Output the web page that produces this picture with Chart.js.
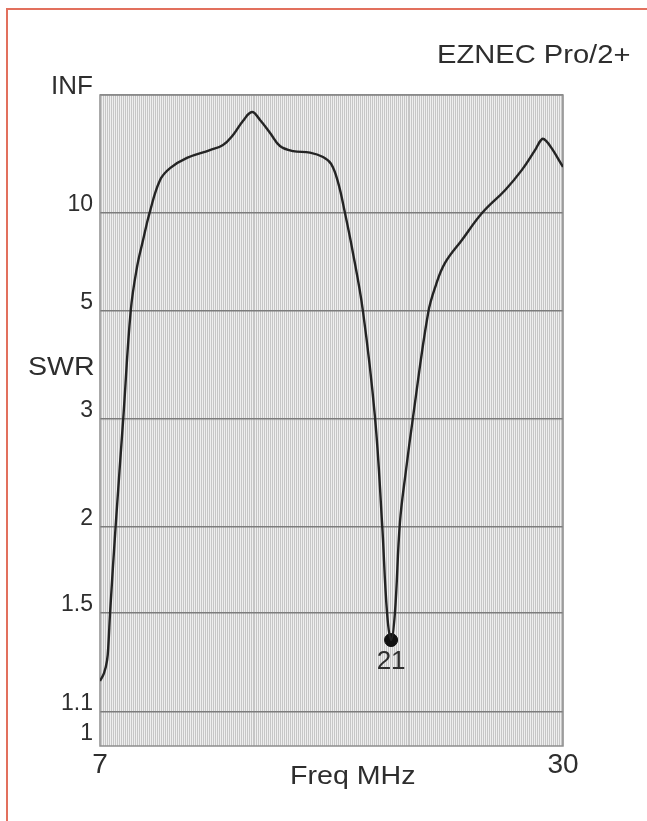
<!DOCTYPE html>
<html>
<head>
<meta charset="utf-8">
<title>EZNEC SWR</title>
<script src="https://cdn.jsdelivr.net/npm/chart.js@4.4.1/dist/chart.umd.min.js"></script>
<style>
html, body { margin: 0; padding: 0; background: #fff; overflow: hidden; }
body { width: 647px; height: 821px; position: relative; font-family: "Liberation Sans", Arial, sans-serif; color: #2e2e2e; }
#frame { position: absolute; left: 6px; top: 8px; width: 700px; height: 900px; border: 2px solid #e2705d; box-sizing: border-box; }
#wrap { position: absolute; left: 0; top: 0; width: 647px; height: 821px; }
.lbl { position: absolute; font-size: 26px; line-height: 26px; white-space: nowrap; transform-origin: left top; }
</style>
</head>
<body>
<div id="frame"></div>
<div id="wrap"><canvas id="swrChart" width="647" height="821"></canvas></div>
<div class="lbl" style="left:437px; top:41px; transform:scaleX(1.12)">EZNEC Pro/2+</div>
<div class="lbl" style="left:28px; top:353px; transform:scaleX(1.1)">SWR</div>
<div class="lbl" style="left:290px; top:762px; transform:scaleX(1.1)">Freq MHz</div>
<script>
// --- data (frequency in MHz, SWR) ---
const freqMHz = [
  7.00, 7.20, 7.35, 7.42, 7.50, 7.78, 8.16, 8.53, 8.84, 9.14, 9.46, 9.98, 10.48, 11.32, 12.46, 13.11,
  13.61, 14.10, 14.55, 14.95, 15.45, 15.94, 16.59, 17.43, 18.08, 18.48, 18.82, 19.17, 19.52, 20.06,
  20.66, 21.01, 21.26, 21.46, 21.65, 21.90, 22.20, 22.55, 23.30, 23.69, 24.14, 24.98, 25.98, 27.12,
  27.96, 28.61, 28.96, 29.16, 29.46, 30.00];
const swr = [
  1.21, 1.24, 1.29, 1.36, 1.50, 2.01, 3.02, 5.02, 6.53, 7.93, 9.97, 14.2, 16.7, 19.6, 22.5, 24.9,
  31.4, 48.8, 75, 50.8, 33.1, 24.4, 22.1, 21.5, 19.9, 17.8, 13.9, 9.97, 7.46, 5.00,
  3.02, 2.03, 1.50, 1.376, 1.50, 2.03, 2.45, 3.02, 4.94, 5.82, 6.71, 7.93, 9.97, 12.6,
  16.3, 22.5, 28.4, 27.2, 23.0, 17.0];

// marked minimum
const markerFreq = [21.46];
const markerSwr = [1.376];
const markerLabel = ['21'];

// axis ticks
const yTickSwr = [Infinity, 10, 5, 3, 2, 1.5, 1.1, 1];
const yTickLabels = ['INF', '10', '5', '3', '2', '1.5', '1.1', '1'];
const xTickLabels = [7, 30];
const xMin = 7, xMax = 30;
const yMin = -0.0054; // plot box runs a little below SWR 1

// EZNEC draws SWR on a reflection coefficient scale
function toRho(s) {
  if (s === Infinity) return 1;
  return (s - 1) / (s + 1);
}

const FONT = '"Liberation Sans", Arial, sans-serif';

const plotFrame = {
  id: 'plotFrame',
  beforeDraw(chart) {
    const { ctx, chartArea: a } = chart;
    ctx.save();
    ctx.fillStyle = '#c6c6c6';
    ctx.fillRect(a.left, a.top, a.right - a.left, a.bottom - a.top);
    ctx.restore();
  },
  beforeDatasetsDraw(chart) {
    const { ctx, chartArea: a } = chart;
    ctx.save();
    ctx.strokeStyle = '#8e8e8e';
    ctx.lineWidth = 1.5;
    ctx.strokeRect(a.left, a.top, a.right - a.left, a.bottom - a.top);
    ctx.restore();
  },
  afterDatasetsDraw(chart) {
    const { ctx } = chart;
    const meta = chart.getDatasetMeta(1);
    ctx.save();
    ctx.fillStyle = '#2e2e2e';
    ctx.font = '26px ' + FONT;
    ctx.textAlign = 'center';
    ctx.textBaseline = 'middle';
    meta.data.forEach((pt, i) => {
      ctx.fillText(markerLabel[i], pt.x, pt.y + 22);
    });
    ctx.restore();
  }
};

new Chart(document.getElementById('swrChart'), {
  type: 'line',
  data: {
    datasets: [{
      data: freqMHz.map((f, i) => ({ x: f, y: toRho(swr[i]) })),
      borderColor: '#242424',
      borderWidth: 2.4,
      pointRadius: 0,
      tension: 0.4,
      fill: false
    }, {
      data: markerFreq.map((f, i) => ({ x: f, y: toRho(markerSwr[i]) })),
      showLine: false,
      pointRadius: 6.5,
      pointBackgroundColor: '#111',
      pointBorderColor: '#111'
    }]
  },
  options: {
    responsive: false,
    animation: false,
    events: [],
    layout: { padding: { top: 95, right: 84, bottom: 35, left: 0 } },
    plugins: {
      legend: { display: false },
      tooltip: { enabled: false }
    },
    scales: {
      x: {
        type: 'linear',
        min: xMin,
        max: xMax,
        afterBuildTicks: (scale) => {
          const t = [];
          for (let i = xMin * 10; i <= xMax * 10; i++) t.push({ value: i / 10 });
          scale.ticks = t;
        },
        afterFit: (scale) => { scale.height = 40; },
        border: { display: false },
        grid: { color: '#efefef', lineWidth: 1, drawTicks: false, z: -2 },
        ticks: {
          autoSkip: false,
          maxRotation: 0,
          padding: 2,
          color: '#2e2e2e',
          font: { size: 28, family: FONT },
          callback: (v) => xTickLabels.includes(v) ? String(v) : ''
        }
      },
      y: {
        type: 'linear',
        min: yMin,
        max: 1,
        afterBuildTicks: (scale) => {
          scale.ticks = yTickSwr.map(s => ({ value: toRho(s) }));
        },
        afterFit: (scale) => { scale.width = 100; },
        border: { display: false },
        grid: {
          color: (ctx) => (ctx.tick && ctx.tick.value === 0) ? 'rgba(0,0,0,0)' : '#7c7c7c',
          lineWidth: 1.5,
          drawTicks: false,
          z: -1
        },
        ticks: {
          autoSkip: false,
          padding: 7,
          labelOffset: -8.5,
          color: '#2e2e2e',
          font: (ctx) => ({ size: ctx.index === 0 ? 26 : 23, family: FONT }),
          callback: (v, i) => yTickLabels[i]
        }
      }
    }
  },
  plugins: [plotFrame]
});
</script>
</body>
</html>
